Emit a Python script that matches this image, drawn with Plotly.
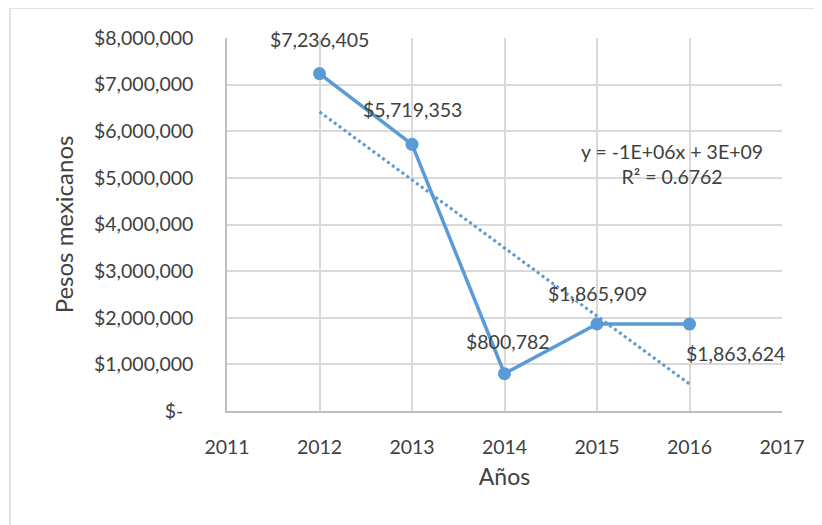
import numpy as np
import plotly.graph_objects as go

years = [2012, 2013, 2014, 2015, 2016]
values = [7236405, 5719353, 800782, 1865909, 1863624]
labels = ["$7,236,405", "$5,719,353", "$800,782", "$1,865,909", "$1,863,624"]
y_tickvals = [0, 1000000, 2000000, 3000000, 4000000, 5000000, 6000000, 7000000, 8000000]
y_ticktext = ["$-  ", "$1,000,000", "$2,000,000", "$3,000,000", "$4,000,000",
              "$5,000,000", "$6,000,000", "$7,000,000", "$8,000,000"]
x_ticks = [2011, 2012, 2013, 2014, 2015, 2016, 2017]

BLUE = "#5B9BD5"
TXT = "#404040"
FONT = "Lato"

slope, intercept = np.polyfit(years, values, 1)
trend_y = [slope * x + intercept for x in years]

fig = go.Figure()
fig.add_trace(go.Scatter(x=years, y=trend_y, mode="lines",
                         line=dict(color=BLUE, width=3, dash="dot"),
                         hoverinfo="skip", showlegend=False))
fig.add_trace(go.Scatter(x=years, y=values, mode="lines+markers",
                         line=dict(color=BLUE, width=3.5),
                         marker=dict(color=BLUE, size=13),
                         showlegend=False))

# data labels
offsets = [(0, 34), (0, 35), (3, 32), (0, 31), (46, -29)]
for x, v, t, (dx, dy) in zip(years, values, labels, offsets):
    fig.add_annotation(x=x, y=v, text=t, showarrow=False, xshift=dx, yshift=dy,
                       xanchor="center", yanchor="middle",
                       font=dict(family=FONT, size=19.5, color=TXT))

fig.add_annotation(xref="paper", yref="paper", x=0.802, y=0.662,
                   xanchor="center", yanchor="middle",
                   text="y = -1E+06x + 3E+09<br>R² = 0.6762", showarrow=False,
                   align="center", font=dict(family=FONT, size=19.5, color=TXT))

# outer chart border
fig.add_shape(type="rect", xref="paper", yref="paper",
              x0=-0.391, x1=1.086, y0=-0.32, y1=1.0804,
              line=dict(color="#d9d9d9", width=1.5), layer="below")

fig.update_layout(
    width=822, height=525,
    margin=dict(l=219, r=48, t=30, b=122),
    paper_bgcolor="white", plot_bgcolor="white",
    font=dict(family=FONT, size=19.5, color=TXT),
    xaxis=dict(range=[2011, 2017], tickvals=x_ticks, ticktext=[str(t) for t in x_ticks],
               showgrid=True, gridcolor="#d9d9d9", gridwidth=1.5,
               showline=True, linecolor="#bfbfbf", linewidth=1.5,
               zeroline=False, ticks="", ticklabelstandoff=18,
               title=dict(text="Años", font=dict(family=FONT, size=23, color=TXT), standoff=12),
               tickfont=dict(family=FONT, size=19.5, color=TXT)),
    yaxis=dict(range=[0, 8000000], tickvals=y_tickvals, ticktext=y_ticktext,
               showgrid=True, gridcolor="#d9d9d9", gridwidth=1.5,
               showline=True, linecolor="#bfbfbf", linewidth=1.5,
               zeroline=False, ticks="", ticklabelstandoff=28,
               title=dict(text="Pesos mexicanos", font=dict(family=FONT, size=24, color=TXT), standoff=14),
               tickfont=dict(family=FONT, size=19.5, color=TXT)),
)

fig.write_html("out.html")
